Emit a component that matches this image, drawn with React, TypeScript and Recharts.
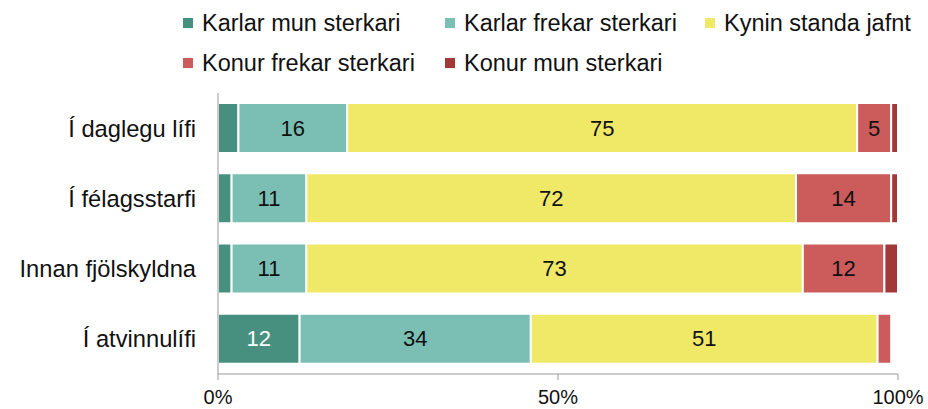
import { BarChart, Bar, XAxis, YAxis, LabelList } from 'recharts';

const categories = ['Í daglegu lífi', 'Í félagsstarfi', 'Innan fjölskyldna', 'Í atvinnulífi'];
const karlarMun = [3, 2, 2, 12];
const karlarFrekar = [16, 11, 11, 34];
const jafnt = [75, 72, 73, 51];
const konurFrekar = [5, 14, 12, 2];
const konurMun = [1, 1, 2, 0];
const xTicks = [0, 50, 100];

const series = [
  { key: 'karlarMun', name: 'Karlar mun sterkari', color: '#47907f', labelColor: '#fff' },
  { key: 'karlarFrekar', name: 'Karlar frekar sterkari', color: '#7bbfb4', labelColor: '#111' },
  { key: 'jafnt', name: 'Kynin standa jafnt', color: '#f0e968', labelColor: '#111' },
  { key: 'konurFrekar', name: 'Konur frekar sterkari', color: '#cc5b5b', labelColor: '#111' },
  { key: 'konurMun', name: 'Konur mun sterkari', color: '#a23838', labelColor: '#111' },
];

const data = categories.map((name, i) => ({
  name,
  karlarMun: karlarMun[i],
  karlarFrekar: karlarFrekar[i],
  jafnt: jafnt[i],
  konurFrekar: konurFrekar[i],
  konurMun: konurMun[i],
}));

const font = '"Liberation Sans", Arial, sans-serif';

// legend slots: [left of marker, top center]
const legendPos = [
  [183, 23],
  [445, 23],
  [705, 23],
  [183, 63],
  [445, 63],
];

function makeLabel(fill: string) {
  return (props: any) => {
    const { x, y, width, height, value } = props;
    if (value == null || value < 5) return null;
    return (
      <text
        x={x + width / 2}
        y={y + height / 2}
        textAnchor="middle"
        dominantBaseline="central"
        fontSize={22}
        fontFamily={font}
        fill={fill}
      >
        {value}
      </text>
    );
  };
}

export default function App() {
  return (
    <div style={{ position: 'absolute', left: 0, top: 0, width: 928, height: 409, background: '#fff', fontFamily: font }}>
      {series.map((s, i) => (
        <div
          key={s.key}
          style={{
            position: 'absolute',
            left: legendPos[i][0],
            top: legendPos[i][1] - 14,
            height: 28,
            display: 'flex',
            alignItems: 'center',
            whiteSpace: 'nowrap',
            fontSize: 23.5,
            color: '#111',
          }}
        >
          <span style={{ width: 10, height: 10, background: s.color, marginRight: 9, display: 'inline-block' }} />
          {s.name}
        </div>
      ))}
      <BarChart
        width={928}
        height={409}
        data={data}
        layout="vertical"
        barSize={50}
        margin={{ top: 93, right: 30, bottom: 5, left: 0 }}
        style={{ position: 'absolute', left: 0, top: 0 }}
      >
        <XAxis
          type="number"
          domain={[0, 100]}
          ticks={xTicks}
          tickFormatter={(v: number) => `${v}%`}
          height={30}
          stroke="#999"
          tickSize={6}
          tickMargin={10}
          tick={{ fill: '#111', fontSize: 20, fontFamily: font }}
        />
        <YAxis
          type="category"
          dataKey="name"
          width={218}
          stroke="#999"
          tickLine={false}
          tickSize={0}
          tickMargin={22}
          tick={{ fill: '#111', fontSize: 23.7, fontFamily: font }}
        />
        {series.map(s => (
          <Bar
            key={s.key}
            dataKey={s.key}
            name={s.name}
            stackId="a"
            fill={s.color}
            stroke="#fff"
            strokeWidth={2}
            isAnimationActive={false}
          >
            <LabelList dataKey={s.key} content={makeLabel(s.labelColor)} />
          </Bar>
        ))}
      </BarChart>
    </div>
  );
}
